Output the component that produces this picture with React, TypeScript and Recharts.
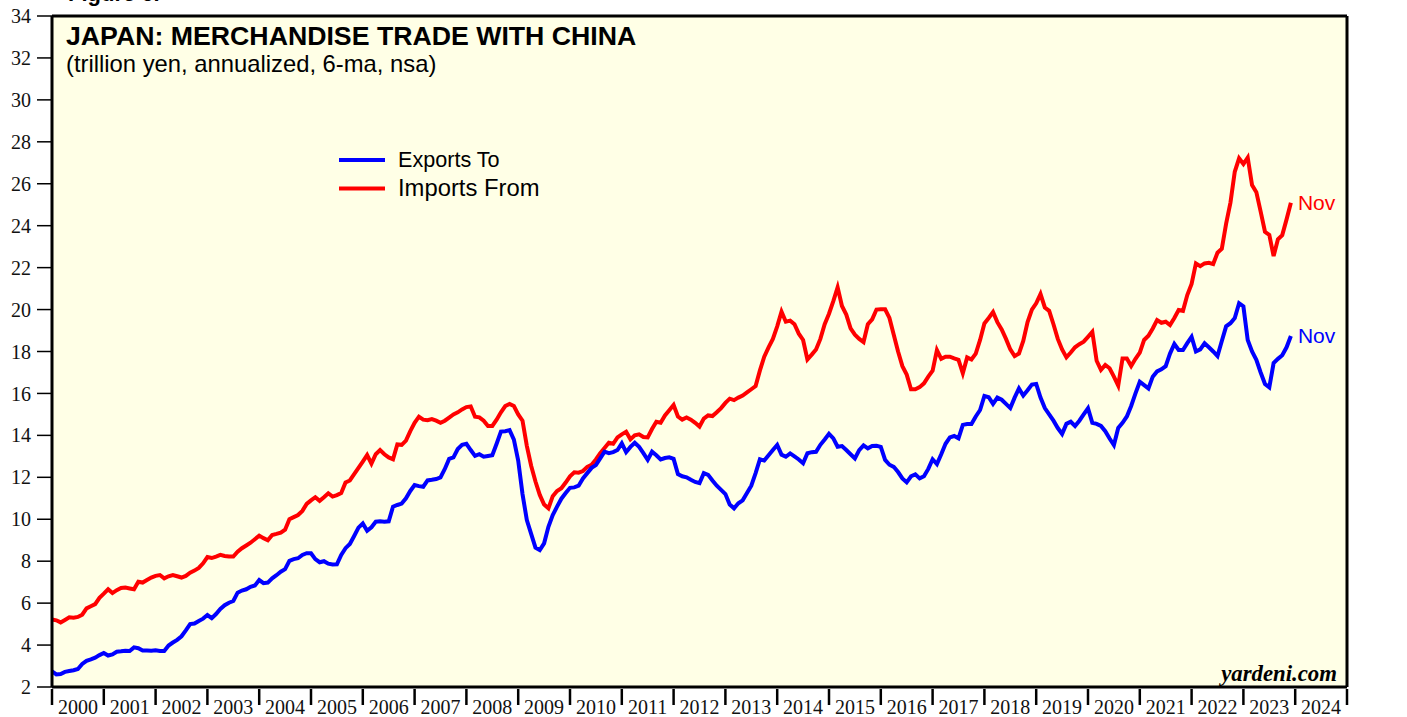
import { CartesianGrid, Customized, Line, LineChart, ReferenceLine, XAxis, YAxis } from "recharts";

// Japan: merchandise trade with China, trillion yen, annualized, 6-ma
// first value is Dec 1999, then one row per calendar year (last row ends Nov 2023)
const startYear = 1999;
const startMonth = 12;

const exportsTo = [
  2.75,
  2.6, 2.62, 2.72, 2.76, 2.8, 2.86, 3.1, 3.25, 3.32, 3.4, 3.52, 3.62,
  3.5, 3.55, 3.68, 3.7, 3.73, 3.72, 3.89, 3.85, 3.74, 3.74, 3.73, 3.75,
  3.72, 3.72, 3.98, 4.12, 4.25, 4.42, 4.7, 5.0, 5.03, 5.15, 5.26, 5.43,
  5.28, 5.48, 5.72, 5.9, 6.02, 6.1, 6.5, 6.6, 6.66, 6.78, 6.84, 7.1,
  6.95, 6.98, 7.18, 7.33, 7.5, 7.62, 8.02, 8.1, 8.14, 8.3, 8.38, 8.38,
  8.1, 7.95, 8.0, 7.88, 7.84, 7.85, 8.3, 8.62, 8.82, 9.2, 9.6, 9.8,
  9.45, 9.62, 9.88, 9.9, 9.88, 9.9, 10.6, 10.68, 10.75, 11.0, 11.35, 11.63,
  11.58, 11.55, 11.85, 11.88, 11.92, 12.0, 12.4, 12.88, 12.95, 13.35, 13.55, 13.6,
  13.3, 13.02, 13.1, 12.98, 13.02, 13.05, 13.6, 14.18, 14.2, 14.25, 13.8, 12.8,
  11.2, 9.96, 9.3, 8.65, 8.53, 8.85, 9.64, 10.2, 10.6, 10.98, 11.25, 11.5,
  11.52, 11.6, 11.95, 12.2, 12.45, 12.58, 12.9, 13.22, 13.15, 13.2, 13.3, 13.62,
  13.2, 13.45, 13.65, 13.45, 13.15, 12.83, 13.22, 13.05, 12.85, 12.92, 12.95, 12.88,
  12.15, 12.05, 12.0, 11.88, 11.78, 11.72, 12.2, 12.12, 11.85, 11.6, 11.4, 11.2,
  10.7, 10.52, 10.76, 10.9, 11.25, 11.6, 12.2, 12.86, 12.8, 13.05, 13.3, 13.54,
  13.08, 12.98, 13.14, 13.0, 12.85, 12.67, 13.15, 13.2, 13.22, 13.55, 13.8, 14.07,
  13.86, 13.46, 13.49, 13.3, 13.1, 12.9, 13.3, 13.52, 13.38, 13.49, 13.5, 13.45,
  12.83, 12.6, 12.5, 12.25, 11.95, 11.76, 12.05, 12.14, 11.95, 12.05, 12.4, 12.86,
  12.63, 13.1, 13.6, 13.9, 13.97, 13.86, 14.5, 14.54, 14.54, 14.9, 15.21, 15.88,
  15.82, 15.5, 15.8, 15.7, 15.5, 15.3, 15.8, 16.24, 15.9, 16.15, 16.42, 16.45,
  15.8, 15.3, 15.0, 14.7, 14.35, 14.07, 14.55, 14.65, 14.45, 14.7, 15.0, 15.29,
  14.6, 14.55, 14.45, 14.2, 13.85, 13.54, 14.35, 14.6, 14.9, 15.4, 16.0, 16.56,
  16.4, 16.24, 16.8, 17.05, 17.15, 17.3, 17.9, 18.36, 18.07, 18.07, 18.4, 18.7,
  18.0, 18.1, 18.39, 18.2, 18.0, 17.78, 18.5, 19.2, 19.35, 19.6, 20.3, 20.15,
  18.55, 18.0, 17.6, 17.0, 16.45, 16.29, 17.45, 17.65, 17.82, 18.2, 18.74,
];

const importsFrom = [
  5.22,
  5.18, 5.08, 5.2, 5.32, 5.3, 5.34, 5.45, 5.75, 5.85, 5.95, 6.25, 6.45,
  6.66, 6.48, 6.62, 6.72, 6.74, 6.7, 6.66, 7.02, 6.98, 7.1, 7.22, 7.3,
  7.34, 7.18, 7.28, 7.34, 7.28, 7.22, 7.3, 7.45, 7.55, 7.68, 7.9, 8.2,
  8.15, 8.22, 8.3, 8.25, 8.22, 8.22, 8.45, 8.62, 8.75, 8.88, 9.05, 9.22,
  9.1, 9.0, 9.25, 9.3, 9.36, 9.5, 10.0, 10.1, 10.2, 10.4, 10.73, 10.9,
  11.05, 10.88, 11.05, 11.24, 11.08, 11.15, 11.25, 11.75, 11.85, 12.15, 12.45, 12.75,
  13.06, 12.65, 13.1, 13.3, 13.1, 12.95, 12.86, 13.57, 13.55, 13.75, 14.2, 14.6,
  14.89, 14.75, 14.72, 14.78, 14.7, 14.6, 14.7, 14.85, 15.0, 15.1, 15.24, 15.35,
  15.38, 14.89, 14.86, 14.7, 14.45, 14.45, 14.75, 15.1, 15.4, 15.5, 15.4, 15.0,
  14.7, 13.5, 12.55, 11.8, 11.16, 10.7, 10.52, 11.1, 11.35, 11.48, 11.75, 12.05,
  12.24, 12.22, 12.3, 12.5, 12.6, 12.85, 13.15, 13.4, 13.65, 13.6, 13.9, 14.05,
  14.17, 13.81, 14.0, 14.05, 13.92, 13.9, 14.3, 14.65, 14.6, 14.95, 15.2, 15.45,
  14.9, 14.75, 14.85, 14.75, 14.6, 14.42, 14.8, 14.95, 14.92, 15.1, 15.3, 15.55,
  15.75, 15.68, 15.8, 15.9, 16.05, 16.2, 16.35, 17.1, 17.75, 18.2, 18.6, 19.2,
  19.9, 19.42, 19.47, 19.3, 18.85, 18.55, 17.62, 17.85, 18.1, 18.6, 19.3, 19.8,
  20.4, 21.06, 20.17, 19.76, 19.1, 18.8, 18.6, 18.45, 19.3, 19.53, 20.0, 20.01,
  20.01, 19.6, 18.8, 18.0, 17.3, 16.9, 16.2, 16.2, 16.3, 16.48, 16.8, 17.08,
  18.07, 17.65, 17.75, 17.75, 17.67, 17.6, 16.96, 17.72, 17.62, 17.9, 18.55, 19.34,
  19.6, 19.88, 19.4, 19.05, 18.6, 18.1, 17.78, 17.9, 18.5, 19.4, 20.0, 20.3,
  20.74, 20.1, 19.94, 19.3, 18.6, 18.1, 17.72, 17.95, 18.2, 18.35, 18.47, 18.7,
  18.94, 17.56, 17.12, 17.36, 17.2, 16.8, 16.37, 17.67, 17.67, 17.31, 17.65, 17.95,
  18.55, 18.75, 19.1, 19.5, 19.37, 19.42, 19.26, 19.6, 19.98, 19.94, 20.69, 21.22,
  22.2, 22.07, 22.2, 22.23, 22.17, 22.71, 22.9, 24.1, 25.1, 26.57, 27.21, 26.94,
  27.25, 25.94, 25.6, 24.67, 23.71, 23.56, 22.55, 23.35, 23.55, 24.3, 25.09,
];

const monthNames = ["Jan", "Feb", "Mar", "Apr", "May", "Jun", "Jul", "Aug", "Sep", "Oct", "Nov", "Dec"];
const yearTicks = [2000, 2001, 2002, 2003, 2004, 2005, 2006, 2007, 2008, 2009, 2010, 2011, 2012,
  2013, 2014, 2015, 2016, 2017, 2018, 2019, 2020, 2021, 2022, 2023, 2024, 2025];
const valueTicks = [2, 4, 6, 8, 10, 12, 14, 16, 18, 20, 22, 24, 26, 28, 30, 32, 34];

// each month is placed at its end, so Dec 1999 sits on the 2000 gridline
const data = exportsTo.map((v, i) => {
  const idx = startMonth - 1 + i;
  const year = startYear + Math.floor(idx / 12);
  const month = (idx % 12) + 1;
  return { month: monthNames[month - 1] + " " + year, t: year + month / 12, exports: v, imports: importsFrom[i] };
});

const W = 1407;
const H = 717;
const LEFT_W = 52;
const RIGHT_W = 60;
const yearPx = (W - LEFT_W - RIGHT_W) / (yearTicks.length - 1);

const serif = "'Liberation Serif', 'Times New Roman', serif";
const sans = "'Liberation Sans', Arial, sans-serif";

function YearTick({ x, y, payload }: any) {
  const yr = payload.value;
  return (
    <g>
      <line x1={x} x2={x} y1={y + 2} y2={y + 18} stroke="#000" strokeWidth={2.5} />
      {yr < 2025 && (
        <text x={x + yearPx / 2} y={y + 27} textAnchor="middle" fontFamily={serif} fontSize={20} fill="#111">
          {yr}
        </text>
      )}
    </g>
  );
}

function lastLabel(color: string) {
  return (p: any) => {
    if (p.index !== data.length - 1) return <g />;
    const name = data[p.index].month.split(" ")[0];
    return (
      <text x={p.x + 7} y={p.y + 7} fontFamily={sans} fontSize={21} fill={color}>{name}</text>
    );
  };
}

function Decor() {
  return (
    <g>
      <text x={68} y={1} fontFamily={sans} fontWeight="bold" fontSize={22} fill="#000">Figure 6.</text>
      <text x={66} y={45} fontFamily={sans} fontWeight="bold" fontSize={26.7} fill="#000">
        JAPAN: MERCHANDISE TRADE WITH CHINA
      </text>
      <text x={66} y={72} fontFamily={sans} fontSize={23.8} fill="#000">
        (trillion yen, annualized, 6-ma, nsa)
      </text>
      <line x1={339} x2={385} y1={160} y2={160} stroke="#0000ff" strokeWidth={4} />
      <text x={398} y={167} fontFamily={sans} fontSize={21.6} fill="#000">Exports To</text>
      <line x1={339} x2={385} y1={188.5} y2={188.5} stroke="#ff0000" strokeWidth={4} />
      <text x={398} y={196} fontFamily={sans} fontSize={23.8} fill="#000">Imports From</text>
      <text x={1337} y={681} textAnchor="end" fontFamily={serif} fontWeight="bold" fontStyle="italic" fontSize={22.8} fill="#000">
        yardeni.com
      </text>
    </g>
  );
}

export default function App() {
  const tickStyle = { fontFamily: serif, fontSize: 20, fill: "#111" };
  return (
    <div style={{ position: "absolute", left: 0, top: 0, width: W, height: H, background: "#fff" }}>
      <LineChart width={W} height={H} data={data} margin={{ top: 16, right: 0, bottom: 0, left: 0 }}>
        <CartesianGrid horizontal={false} vertical={false} fill="#ffffe6" />
        <XAxis
          dataKey="t"
          type="number"
          domain={[2000, 2025]}
          ticks={yearTicks}
          interval={0}
          height={30}
          tickSize={0}
          tickMargin={0}
          tickLine={false}
          tick={<YearTick />}
          axisLine={{ stroke: "#000", strokeWidth: 3 }}
          allowDataOverflow
        />
        <YAxis
          yAxisId="left"
          domain={[2, 34]}
          ticks={valueTicks}
          interval={0}
          width={LEFT_W}
          tickSize={15}
          tickMargin={6}
          tick={tickStyle}
          tickLine={{ stroke: "#000", strokeWidth: 1.5 }}
          axisLine={{ stroke: "#000", strokeWidth: 3 }}
        />
        <YAxis
          yAxisId="right"
          orientation="right"
          domain={[2, 34]}
          ticks={valueTicks}
          interval={0}
          width={RIGHT_W}
          tickSize={15}
          tickMargin={6}
          tick={tickStyle}
          tickLine={{ stroke: "#000", strokeWidth: 1.5 }}
          axisLine={{ stroke: "#000", strokeWidth: 3 }}
        />
        <ReferenceLine yAxisId="left" y={34} stroke="#000" strokeWidth={3} />
        <Line
          yAxisId="left"
          dataKey="imports"
          stroke="#ff0000"
          strokeWidth={4}
          dot={false}
          type="linear"
          isAnimationActive={false}
          label={lastLabel("#ff0000")}
        />
        <Line
          yAxisId="left"
          dataKey="exports"
          stroke="#0000ff"
          strokeWidth={4}
          dot={false}
          type="linear"
          isAnimationActive={false}
          label={lastLabel("#0000ff")}
        />
        <Customized component={Decor} />
      </LineChart>
    </div>
  );
}
